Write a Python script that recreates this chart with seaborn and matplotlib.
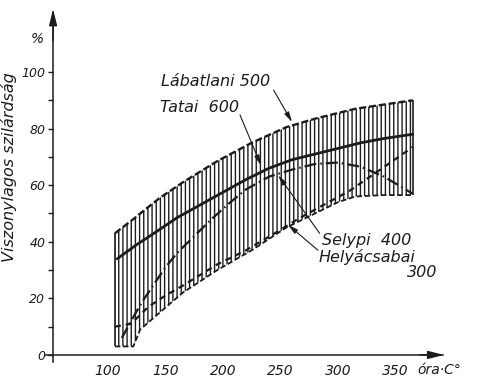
import numpy as np
import matplotlib
matplotlib.use("Agg")
import matplotlib.pyplot as plt
import seaborn as sns

INK = "#1c1c1c"

# hatched envelope (all coal samples)
band_x      = [106, 122, 128, 145, 165, 195, 225, 255, 280, 300, 315, 340, 365]
band_top    = [43, 48, 50, 55.5, 61, 68.5, 75, 80.5, 83.5, 85.5, 87, 88.5, 90]
band_bottom = [3, 3, 9, 15, 22, 30, 37, 45, 50, 54, 56, 56.5, 56.5]

# Tatai 600 (solid)
tatai_x = [108, 125, 140, 160, 180, 200, 220, 240, 260, 280, 300, 320, 340, 365]
tatai_y = [34, 39, 43, 48.5, 53, 57.5, 62, 66, 69, 71, 73, 75, 76.5, 78]

# Selypi 400 (dash-dot)
selypi_x = [112, 120, 130, 140, 150, 160, 175, 190, 205, 220, 240, 260, 280, 300, 320, 340, 365]
selypi_y = [6, 12, 19, 25, 31, 36, 42, 48, 53.5, 58.5, 63, 65.5, 67.5, 68, 66.5, 63, 57]

# Helyácsabai 300 (dashed)
helyi_x = [106, 120, 135, 150, 165, 195, 220, 247, 265, 285, 310, 335, 365]
helyi_y = [10, 11, 17, 21, 24.5, 32, 37, 43.5, 48, 52.5, 58, 65, 73.5]

x_ticks = [100, 150, 200, 250, 300, 350]
y_major = [0, 20, 40, 60, 80, 100]
y_minor = [10, 30, 50, 70, 90]

sns.set_theme(style="white", rc={
    "axes.spines.top": False,
    "axes.spines.right": False,
    "axes.edgecolor": INK,
    "axes.linewidth": 1.1,
    "xtick.color": INK,
    "ytick.color": INK,
    "text.color": INK,
    "axes.labelcolor": INK,
    "hatch.linewidth": 1.0,
})
plt.rcParams["font.family"] = ["DejaVu Sans"]
plt.rcParams["font.style"] = "italic"

fig = plt.figure(figsize=(4.81, 3.83), dpi=100)
ax = fig.add_axes([0.0936, 0.0548, 0.8274, 0.9138])

ax.fill_between(band_x, band_bottom, band_top, facecolor="none",
                edgecolor=INK, hatch="||||", linewidth=0)
sns.lineplot(x=band_x, y=band_top, ax=ax, color=INK, lw=1.7,
             linestyle=(0, (3, 1.2)), legend=False)
sns.lineplot(x=band_x, y=band_bottom, ax=ax, color=INK, lw=1.3,
             linestyle=(0, (3, 1.5)), legend=False)
ax.vlines([band_x[0], band_x[-1]], [band_bottom[0], band_bottom[-1]],
          [band_top[0], band_top[-1]], color=INK, lw=1.2)

sns.lineplot(x=tatai_x, y=tatai_y, ax=ax, color=INK, lw=2.0, legend=False)
sns.lineplot(x=selypi_x, y=selypi_y, ax=ax, color=INK, lw=1.6,
             linestyle=(0, (5.4, 1.8, 0.7, 1.8)), legend=False)
sns.lineplot(x=helyi_x, y=helyi_y, ax=ax, color=INK, lw=1.6,
             linestyle=(0, (2.7, 2.2)), legend=False)

# axes with arrowheads
x0, x1 = 45.2, 391.3
y0, y1 = -2.5, 121.2
ax.set_xlim(x0, x1)
ax.set_ylim(y0, y1)
ax.spines["left"].set_position(("data", 52.2))
ax.spines["bottom"].set_position(("data", 0))
arrow = dict(arrowstyle="-|>,head_length=0.8,head_width=0.2", color=INK,
             lw=1.1, mutation_scale=12, shrinkA=0, shrinkB=0)
ax.annotate("", xy=(x1 + 1, 0), xytext=(x1 - 20, 0), arrowprops=arrow,
            annotation_clip=False)
ax.annotate("", xy=(52.2, y1 + 1), xytext=(52.2, y1 - 10), arrowprops=arrow,
            annotation_clip=False)

ax.set_xticks(x_ticks)
ax.set_xticklabels([str(t) for t in x_ticks])
ax.set_yticks(y_major)
ax.set_yticklabels([str(t) for t in y_major])
ax.set_yticks(y_minor, minor=True)
ax.tick_params(axis="x", direction="inout", length=5, width=1, pad=4, labelsize=10)
ax.tick_params(axis="y", which="both", direction="out", length=3.5, width=1,
               pad=2, labelsize=9, left=True)
ax.set_xlabel("")
ax.set_ylabel("Viszonylagos szilárdság", fontsize=11.5)
ax.yaxis.set_label_coords(-0.07, 0.557)

ax.text(38.3, 111.7, "%", fontsize=10, ha="center", va="center", clip_on=False)
ax.text(369, -5.5, "óra·C°", fontsize=10, ha="left", va="center", clip_on=False)

# curve labels with pointers
lab = dict(fontsize=11.5, ha="left", va="center")
ax.text(146, 96.5, "Lábatlani 500", **lab)
ax.text(145, 87.6, "Tatai  600", **lab)
ax.text(286, 40.6, "Selypi  400", **lab)
ax.text(283.5, 34.6, "Helyácsabai", **lab)
ax.text(360, 29, "300", **lab)

ptr = dict(arrowstyle="-|>,head_length=0.6,head_width=0.15", color=INK,
           lw=0.8, mutation_scale=10, shrinkA=0, shrinkB=0)
ax.annotate("", xy=(260, 82.3), xytext=(244, 93.6), arrowprops=ptr)
ax.annotate("", xy=(233, 67), xytext=(214.8, 84.8), arrowprops=ptr)
ax.annotate("", xy=(248, 63.5), xytext=(284, 43), arrowprops=ptr)
ax.annotate("", xy=(256.5, 46), xytext=(282.6, 37), arrowprops=ptr)

fig.savefig("out.png", dpi=100, facecolor="white")
